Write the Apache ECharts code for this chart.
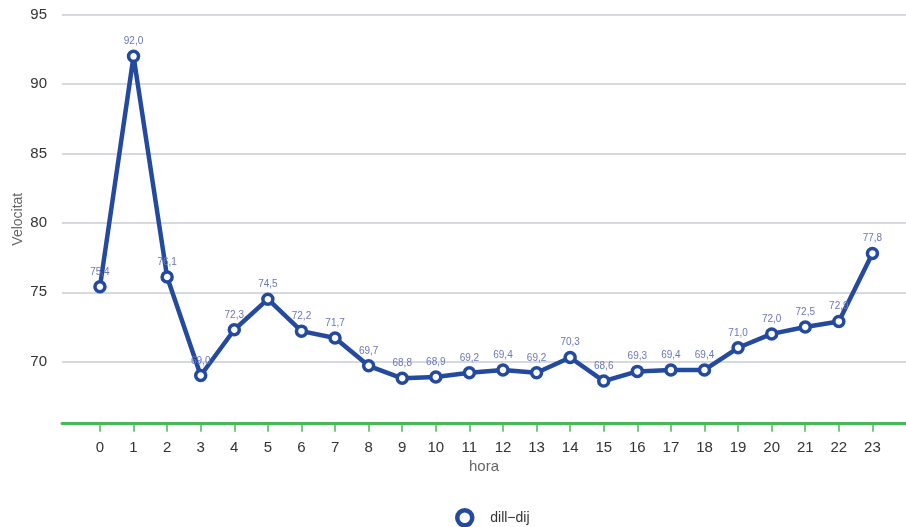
<!DOCTYPE html>
<html>
<head>
<meta charset="utf-8">
<script src="https://cdn.jsdelivr.net/npm/echarts@6/dist/echarts.min.js"></script>
<style>
  html, body { margin: 0; padding: 0; background: #fff; }
  #chart { width: 906px; height: 527px; }
</style>
</head>
<body>
<div id="chart"></div>
<script>
// Hours of the day (x) and mean speed per hour (y)
const hours = [0, 1, 2, 3, 4, 5, 6, 7, 8, 9, 10, 11, 12, 13, 14, 15, 16, 17, 18, 19, 20, 21, 22, 23];
const speeds = [75.4, 92.0, 76.1, 69.0, 72.3, 74.5, 72.2, 71.7, 69.7, 68.8, 68.9, 69.2, 69.4, 69.2, 70.3, 68.6, 69.3, 69.4, 69.4, 71.0, 72.0, 72.5, 72.9, 77.8];
const seriesName = 'dill\u2212dij';

const points = hours.map((h, i) => [h, speeds[i]]);
const fmt = v => v.toFixed(1).replace('.', ',');
const font = 'Liberation Sans, Arial, sans-serif';

const chart = echarts.init(document.getElementById('chart'), null, { renderer: 'canvas' });
chart.setOption({
  animation: false,
  backgroundColor: '#ffffff',
  grid: { left: 62, right: 0, top: 14.7, bottom: 103.3, outerBoundsMode: 'none', containLabel: false },
  legend: {
    data: [{ name: seriesName, icon: 'circle' }],
    top: 503,
    left: 450,
    itemWidth: 15,
    itemHeight: 15,
    itemGap: 10,
    itemStyle: { color: '#ffffff', borderColor: '#234a9e', borderWidth: 4.5 },
    textStyle: { color: '#333333', fontSize: 14, fontFamily: font, padding: [0, 0, 0, 13] }
  },
  xAxis: {
    type: 'value',
    min: -1.13,
    max: 24,
    name: 'hora',
    nameLocation: 'middle',
    nameGap: 36,
    nameMoveOverlap: false,
    nameTextStyle: { color: '#666666', fontSize: 15, fontFamily: font },
    axisLine: { show: true, onZero: false, lineStyle: { color: '#44bb55', width: 3 } },
    axisTick: { show: true, length: 8, customValues: hours, lineStyle: { color: '#44bb55', width: 1.5 } },
    axisLabel: {
      customValues: hours,
      color: '#333333',
      fontSize: 15,
      margin: 17,
      fontFamily: font
    },
    splitLine: { show: false }
  },
  yAxis: {
    type: 'value',
    min: 65.53,
    max: 95,
    name: 'Velocitat',
    nameLocation: 'middle',
    nameGap: 37,
    nameMoveOverlap: false,
    nameTextStyle: { color: '#666666', fontSize: 14, fontFamily: font },
    axisLine: { show: false },
    axisTick: { show: false },
    axisLabel: {
      showMinLabel: false,
      color: '#333333',
      fontSize: 15,
      margin: 15,
      fontFamily: font
    },
    splitLine: { show: true, lineStyle: { color: '#c9cdd2', width: 1.5 } }
  },
  series: [{
    name: seriesName,
    type: 'line',
    data: points,
    symbol: 'circle',
    symbolSize: 10,
    lineStyle: { color: '#234a9e', width: 4.5 },
    itemStyle: { color: '#ffffff', borderColor: '#234a9e', borderWidth: 3.5 },
    label: {
      show: true,
      position: 'top',
      distance: 3,
      fontSize: 10,
      color: '#6b77bd',
      fontFamily: font,
      formatter: p => fmt(p.value[1])
    },
    z: 3
  }]
});
</script>
</body>
</html>
